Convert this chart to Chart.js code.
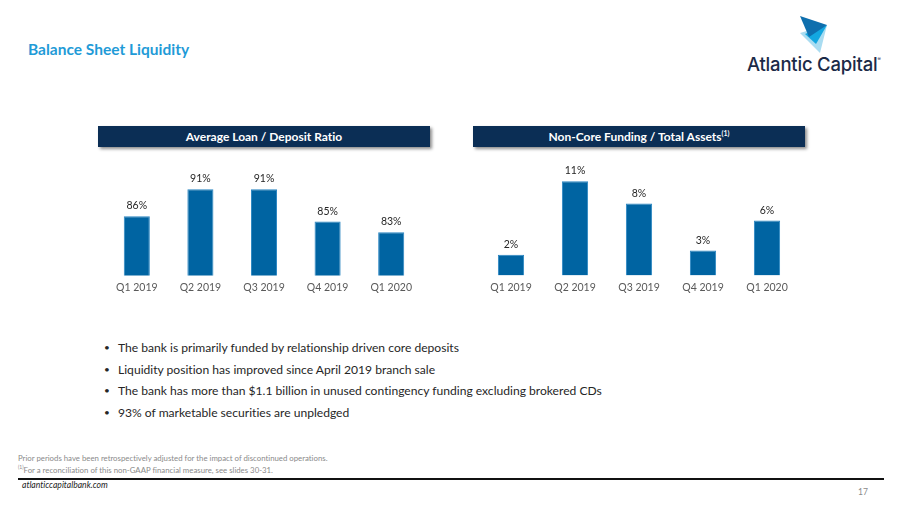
<!DOCTYPE html>
<html>
<head>
<meta charset="utf-8">
<script src="https://cdn.jsdelivr.net/npm/chart.js@4.4.1/dist/chart.umd.min.js"></script>
<style>
  body { margin: 0; background: #fff; font-family: Lato, "Open Sans", sans-serif; font-variant-ligatures: none; }
  #page { position: relative; width: 900px; height: 506px; overflow: hidden; background: #fff; }
  .abs { position: absolute; }
  #title { left: 28px; top: 40px; font-size: 15.5px; font-weight: bold; color: #1f9bd7; }
  .hdr { top: 126px; width: 332px; height: 21px; background: #0b2e55; color: #fff;
         font-size: 12px; font-weight: bold; text-align: center; line-height: 21px;
         box-shadow: 2px 2px 3px rgba(0,0,0,0.45); }
  .hdr sup { font-size: 7px; line-height: 0; }
  #bullets { left: 104px; top: 340px; margin: 0; padding: 0; list-style: none; font-size: 12.1px; color: #262626; }
  #bullets li { height: 21.7px; }
  #bullets li:before { content: "\2022"; display: inline-block; width: 14px; font-size: 10px; vertical-align: 1px; }
  #note { left: 18px; top: 454px; font-size: 7.8px; color: #8a8a8a; line-height: 9px; }
  #note sup { font-size: 5px; }
  #rule { left: 18px; top: 478px; width: 866px; height: 1.5px; background: #111; }
  #site { left: 22px; top: 480px; font-size: 8.6px; font-style: italic; color: #222; }
  #pnum { left: 858px; top: 487px; font-size: 8.5px; color: #8a8a8a; }
  #brand { left: 747px; top: 53px; font-family: Inter, Roboto, sans-serif; font-size: 18.5px; font-weight: 500; color: #1b2a47; letter-spacing: -0.2px; }
  #brand sup { font-size: 5px; vertical-align: 10px; }
</style>
</head>
<body>
<div id="page">
  <div id="title" class="abs">Balance Sheet Liquidity</div>

  <svg class="abs" style="left:795px;top:12px" width="40" height="48" viewBox="795 12 40 48">
    <polygon points="800,33 827,25 820,53" fill="#a9dcf1"/>
    <polygon points="805,34 827,25 816,44" fill="#13a7e0"/>
    <polygon points="800,16 827,25 809,37" fill="#0e6fae"/>
  </svg>
  <div id="brand" class="abs">Atlantic Capital<sup>®</sup></div>

  <div class="abs hdr" style="left:98px">Average Loan / Deposit Ratio</div>
  <div class="abs hdr" style="left:473px">Non-Core Funding / Total Assets<sup>(1)</sup></div>

  <div class="abs" style="left:105px;top:158px;width:318px;height:142px"><canvas id="loanChart"></canvas></div>
  <div class="abs" style="left:479px;top:158px;width:320px;height:142px"><canvas id="fundChart"></canvas></div>

  <ul id="bullets" class="abs">
    <li>The bank is primarily funded by relationship driven core deposits</li>
    <li>Liquidity position has improved since April 2019 branch sale</li>
    <li>The bank has more than $1.1 billion in unused contingency funding excluding brokered CDs</li>
    <li>93% of marketable securities are unpledged</li>
  </ul>

  <div id="note" class="abs">Prior periods have been retrospectively adjusted for the impact of discontinued operations.<br><sup>(1)</sup>For a reconciliation of this non-GAAP financial measure, see slides 30-31.</div>
  <div id="rule" class="abs"></div>
  <div id="site" class="abs">atlanticcapitalbank.com</div>
  <div id="pnum" class="abs">17</div>
</div>

<script>
  // quarters shown under both charts
  const quarters = ['Q1 2019', 'Q2 2019', 'Q3 2019', 'Q4 2019', 'Q1 2020'];
  // average loan / deposit ratio (%)
  const loanDeposit = [86, 91, 91, 85, 83];
  // non-core funding / total assets (%)
  const nonCoreFunding = [2.4, 11.0, 8.4, 2.9, 6.4];

  const barBlue = '#0064a2';

  // draws the % value above each bar
  const valueLabels = {
    id: 'valueLabels',
    afterDatasetsDraw(chart) {
      const ctx = chart.ctx;
      const meta = chart.getDatasetMeta(0);
      ctx.save();
      ctx.font = '10.5px Lato, "Open Sans", sans-serif';
      ctx.fillStyle = '#262626';
      ctx.textAlign = 'center';
      ctx.textBaseline = 'bottom';
      meta.data.forEach((bar, i) => {
        const v = chart.data.datasets[0].data[i];
        ctx.fillText(Math.round(v) + '%', bar.x, bar.y - 5);
      });
      ctx.restore();
    }
  };

  function makeChart(id, values, yMin, yMax) {
    return new Chart(document.getElementById(id), {
      type: 'bar',
      data: {
        labels: quarters,
        datasets: [{
          data: values,
          backgroundColor: barBlue,
          borderColor: '#2a86c2',
          borderWidth: 1,
          categoryPercentage: 1,
          barPercentage: 0.41
        }]
      },
      options: {
        responsive: true,
        maintainAspectRatio: false,
        animation: false,
        layout: { padding: 0 },
        plugins: { legend: { display: false }, tooltip: { enabled: false } },
        scales: {
          x: {
            grid: { display: false, drawTicks: false },
            border: { display: false },
            ticks: { color: '#595959', font: { family: 'Lato', size: 10.5 }, padding: 6, maxRotation: 0 }
          },
          y: { display: false, min: yMin, max: yMax }
        }
      },
      plugins: [valueLabels]
    });
  }

  makeChart('loanChart', loanDeposit, 75, 96.8);
  makeChart('fundChart', nonCoreFunding, 0, 13.7);
</script>
</body>
</html>
